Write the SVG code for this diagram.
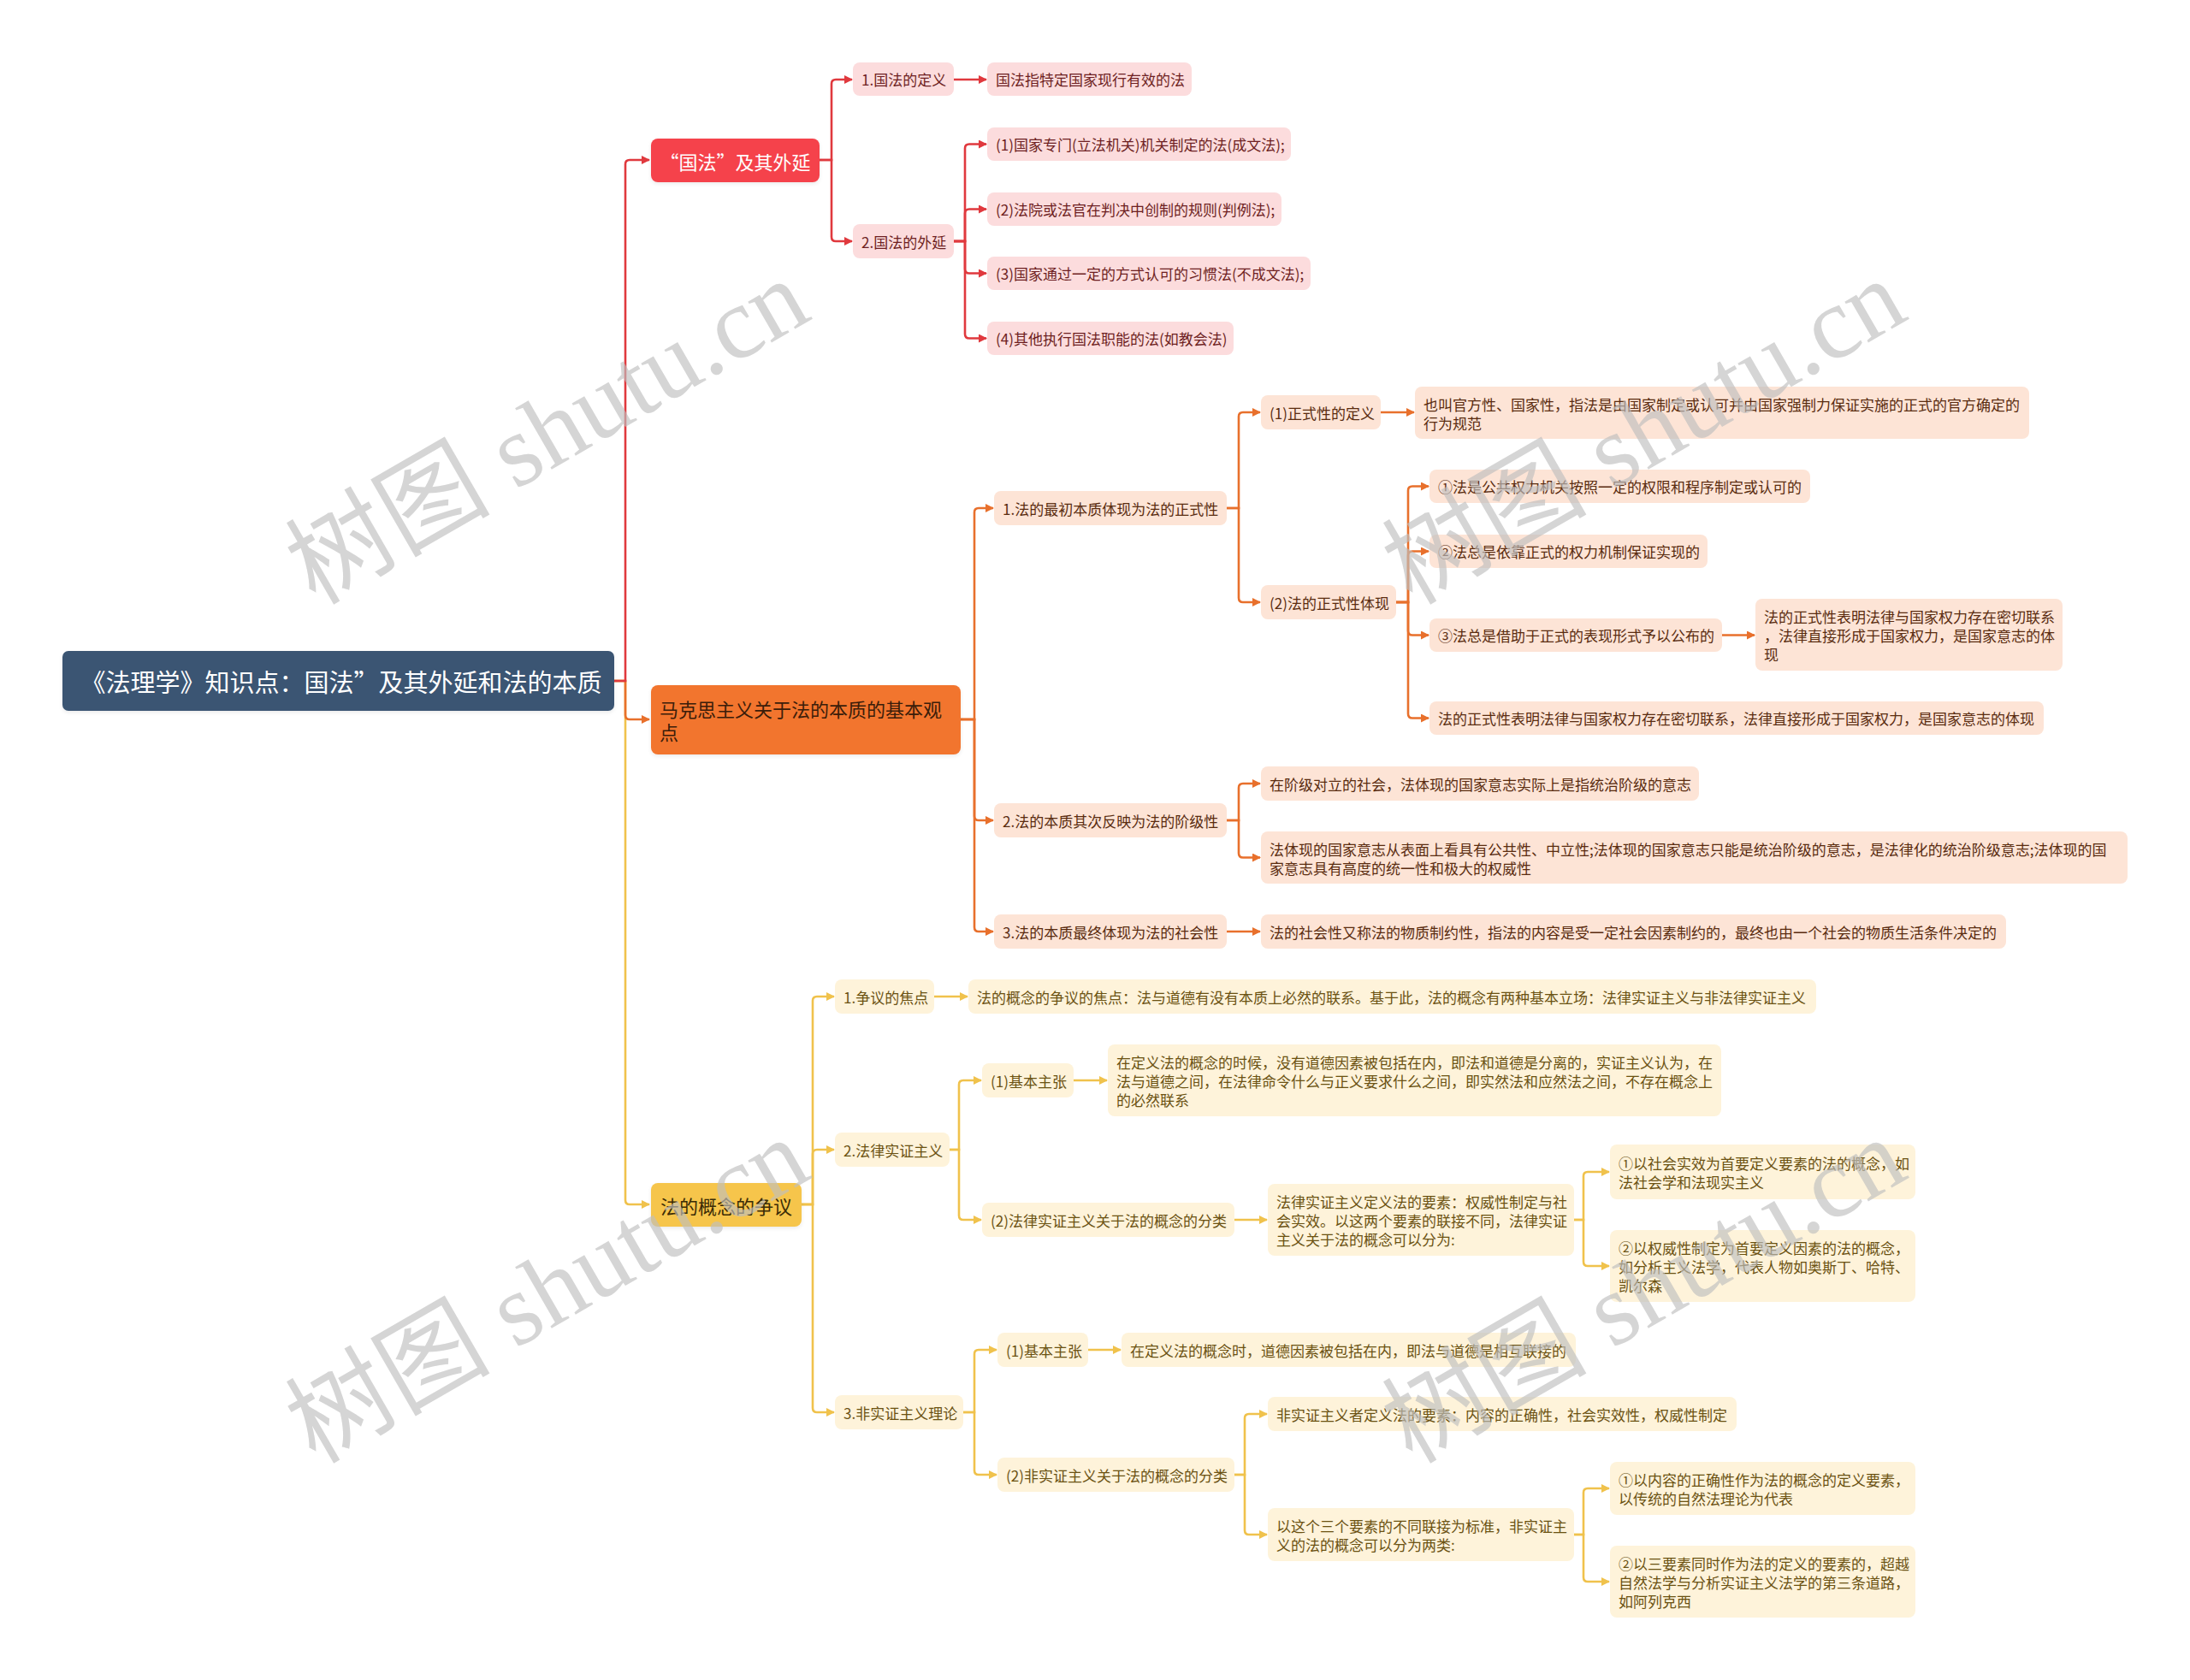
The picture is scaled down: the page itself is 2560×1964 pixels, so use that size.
<svg xmlns="http://www.w3.org/2000/svg" width="2560" height="1964" viewBox="0 0 2560 1964">
<style>
text{font-family:"Noto Sans CJK SC","Noto Sans",sans-serif;}
.t{font-size:17px;dominant-baseline:central;}
.rn{fill:#fcdcdd;}
.on{fill:#fde4d6;}
.yn{fill:#fef3da;}
.rt{fill:#6e1f22;}
.ot{fill:#5a2c10;}
.yt{fill:#6b5212;}
.cr{fill:none;stroke:#e0393e;stroke-width:2.6;marker-end:url(#ar);}
.co{fill:none;stroke:#e8702c;stroke-width:2.6;marker-end:url(#ao);}
.cy{fill:none;stroke:#f0c24c;stroke-width:2.6;marker-end:url(#ay);}
.wm{font-family:"Liberation Serif","Noto Sans CJK SC",serif;font-size:120px;fill:#bfbfbf;opacity:0.65;}
</style>
<defs>
<filter id="sh" x="-5%" y="-20%" width="110%" height="150%"><feDropShadow dx="0" dy="2" stdDeviation="2" flood-color="#000" flood-opacity="0.08"/></filter>
<marker id="ar" viewBox="0 0 10 10" refX="9" refY="5" markerWidth="10" markerHeight="10" markerUnits="userSpaceOnUse" orient="auto"><path d="M0,0 L10,5 L0,10 z" fill="#e0393e"/></marker>
<marker id="ao" viewBox="0 0 10 10" refX="9" refY="5" markerWidth="10" markerHeight="10" markerUnits="userSpaceOnUse" orient="auto"><path d="M0,0 L10,5 L0,10 z" fill="#e8702c"/></marker>
<marker id="ay" viewBox="0 0 10 10" refX="9" refY="5" markerWidth="10" markerHeight="10" markerUnits="userSpaceOnUse" orient="auto"><path d="M0,0 L10,5 L0,10 z" fill="#f0c24c"/></marker>
</defs>
<rect width="2560" height="1964" fill="#ffffff"/>

<g id="connectors">
<path class="cy" d="M718,796 H731 V1403 Q731,1408 736,1408 H759"/>
<path class="co" d="M718,796 H731 V836 Q731,841 736,841 H759"/>
<path class="cr" d="M718,796 H731 V192 Q731,187 736,187 H759"/>
<path class="cr" d="M958,187 H972 V98 Q972,93 977,93 H996"/>
<path class="cr" d="M958,187 H972 V277 Q972,282 977,282 H996"/>
<path class="cr" d="M1115,93 H1153"/>
<path class="cr" d="M1115,282 H1128 V173.5 Q1128,168.5 1133,168.5 H1153"/>
<path class="cr" d="M1115,282 H1128 V249.5 Q1128,244.5 1133,244.5 H1153"/>
<path class="cr" d="M1115,282 H1128 V314.5 Q1128,319.5 1133,319.5 H1153"/>
<path class="cr" d="M1115,282 H1128 V390.5 Q1128,395.5 1133,395.5 H1153"/>
<path class="co" d="M1123,841 H1139 V599 Q1139,594 1144,594 H1161"/>
<path class="co" d="M1123,841 H1139 V954 Q1139,959 1144,959 H1161"/>
<path class="co" d="M1123,841 H1139 V1084 Q1139,1089 1144,1089 H1161"/>
<path class="co" d="M1434,594 H1448 V487 Q1448,482 1453,482 H1473"/>
<path class="co" d="M1434,594 H1448 V699 Q1448,704 1453,704 H1473"/>
<path class="co" d="M1614,482 H1653"/>
<path class="co" d="M1632,704 H1646 V573.5 Q1646,568.5 1651,568.5 H1670"/>
<path class="co" d="M1632,704 H1646 V649.5 Q1646,644.5 1651,644.5 H1670"/>
<path class="co" d="M1632,704 H1646 V737.5 Q1646,742.5 1651,742.5 H1670"/>
<path class="co" d="M1632,704 H1646 V834.5 Q1646,839.5 1651,839.5 H1670"/>
<path class="co" d="M2013,742.5 H2051"/>
<path class="co" d="M1434,959 H1448 V921 Q1448,916 1453,916 H1473"/>
<path class="co" d="M1434,959 H1448 V997.5 Q1448,1002.5 1453,1002.5 H1473"/>
<path class="co" d="M1434,1089 H1473"/>
<path class="cy" d="M937,1408 H950 V1170 Q950,1165 955,1165 H975"/>
<path class="cy" d="M937,1408 H950 V1349 Q950,1344 955,1344 H975"/>
<path class="cy" d="M937,1408 H950 V1646 Q950,1651 955,1651 H975"/>
<path class="cy" d="M1092,1165 H1131"/>
<path class="cy" d="M1110,1344 H1121 V1268 Q1121,1263 1126,1263 H1147"/>
<path class="cy" d="M1110,1344 H1121 V1421 Q1121,1426 1126,1426 H1147"/>
<path class="cy" d="M1255,1263 H1294"/>
<path class="cy" d="M1443,1426 H1481"/>
<path class="cy" d="M1840,1426 H1851 V1375 Q1851,1370 1856,1370 H1881"/>
<path class="cy" d="M1840,1426 H1851 V1475 Q1851,1480 1856,1480 H1881"/>
<path class="cy" d="M1126,1651 H1139 V1583 Q1139,1578 1144,1578 H1165"/>
<path class="cy" d="M1126,1651 H1139 V1719 Q1139,1724 1144,1724 H1165"/>
<path class="cy" d="M1272,1578 H1310"/>
<path class="cy" d="M1443,1724 H1455 V1658 Q1455,1653 1460,1653 H1481"/>
<path class="cy" d="M1443,1724 H1455 V1789 Q1455,1794 1460,1794 H1481"/>
<path class="cy" d="M1840,1794 H1851 V1745 Q1851,1740 1856,1740 H1881"/>
<path class="cy" d="M1840,1794 H1851 V1844 Q1851,1849 1856,1849 H1881"/>
</g>

<g id="root"><rect x="73" y="761" width="645" height="70" rx="7" fill="#3a5573" filter="url(#sh)"/><text x="399" y="796" font-size="29" fill="#ffffff" text-anchor="middle" dominant-baseline="central">《法理学》知识点：国法”及其外延和法的本质</text></g>

<g id="n-guofa"><rect x="761" y="162" width="197" height="51" rx="8" fill="#f5434b" filter="url(#sh)"/><text x="859.5" y="187.5" font-size="22" fill="#ffffff" text-anchor="middle" dominant-baseline="central">“国法”及其外延</text></g>
<g id="n-r1"><rect class="rn" x="997" y="73" width="118" height="39" rx="8"/><text class="t rt" x="1007" y="92.5">1.国法的定义</text></g>
<g id="n-r1a"><rect class="rn" x="1154" y="73" width="239" height="39" rx="8"/><text class="t rt" x="1164" y="92.5">国法指特定国家现行有效的法</text></g>
<g id="n-r2"><rect class="rn" x="997" y="262" width="118" height="40" rx="8"/><text class="t rt" x="1007" y="282">2.国法的外延</text></g>
<g id="n-r2a"><rect class="rn" x="1154" y="149" width="355" height="39" rx="8"/><text class="t rt" x="1164" y="168.5">(1)国家专门(立法机关)机关制定的法(成文法);</text></g>
<g id="n-r2b"><rect class="rn" x="1154" y="225" width="344" height="39" rx="8"/><text class="t rt" x="1164" y="244.5">(2)法院或法官在判决中创制的规则(判例法);</text></g>
<g id="n-r2c"><rect class="rn" x="1154" y="300" width="378" height="39" rx="8"/><text class="t rt" x="1164" y="319.5">(3)国家通过一定的方式认可的习惯法(不成文法);</text></g>
<g id="n-r2d"><rect class="rn" x="1154" y="376" width="288" height="39" rx="8"/><text class="t rt" x="1164" y="395.5">(4)其他执行国法职能的法(如教会法)</text></g>

<g id="n-makesi"><rect x="761" y="801" width="362" height="81" rx="8" fill="#f2752f" filter="url(#sh)"/><text font-size="22" fill="#3b1d0a" dominant-baseline="central"><tspan x="771" y="828">马克思主义关于法的本质的基本观</tspan><tspan x="771" y="855">点</tspan></text></g>
<g id="n-o1"><rect class="on" x="1162" y="574" width="272" height="40" rx="8"/><text class="t ot" x="1172" y="594">1.法的最初本质体现为法的正式性</text></g>
<g id="n-o1a"><rect class="on" x="1474" y="462" width="140" height="40" rx="8"/><text class="t ot" x="1484" y="482">(1)正式性的定义</text></g>
<g id="n-o1a1"><rect class="on" x="1654" y="452" width="718" height="61" rx="8"/><text class="t ot"><tspan x="1664" y="471.5">也叫官方性、国家性，指法是由国家制定或认可并由国家强制力保证实施的正式的官方确定的</tspan><tspan x="1664" y="493.5">行为规范</tspan></text></g>
<g id="n-o1b"><rect class="on" x="1474" y="684" width="158" height="40" rx="8"/><text class="t ot" x="1484" y="704">(2)法的正式性体现</text></g>
<g id="n-o1b1"><rect class="on" x="1671" y="549" width="445" height="39" rx="8"/><text class="t ot" x="1681" y="568.5">①法是公共权力机关按照一定的权限和程序制定或认可的</text></g>
<g id="n-o1b2"><rect class="on" x="1671" y="625" width="325" height="39" rx="8"/><text class="t ot" x="1681" y="644.5">②法总是依靠正式的权力机制保证实现的</text></g>
<g id="n-o1b3"><rect class="on" x="1671" y="723" width="342" height="39" rx="8"/><text class="t ot" x="1681" y="742.5">③法总是借助于正式的表现形式予以公布的</text></g>
<g id="n-o1b3a"><rect class="on" x="2052" y="700" width="359" height="84" rx="8"/><text class="t ot"><tspan x="2062" y="720">法的正式性表明法律与国家权力存在密切联系</tspan><tspan x="2062" y="742">，法律直接形成于国家权力，是国家意志的体</tspan><tspan x="2062" y="764">现</tspan></text></g>
<g id="n-o1b4"><rect class="on" x="1671" y="820" width="718" height="39" rx="8"/><text class="t ot" x="1681" y="839.5">法的正式性表明法律与国家权力存在密切联系，法律直接形成于国家权力，是国家意志的体现</text></g>
<g id="n-o2"><rect class="on" x="1162" y="939" width="272" height="40" rx="8"/><text class="t ot" x="1172" y="959">2.法的本质其次反映为法的阶级性</text></g>
<g id="n-o2a"><rect class="on" x="1474" y="896" width="512" height="40" rx="8"/><text class="t ot" x="1484" y="916">在阶级对立的社会，法体现的国家意志实际上是指统治阶级的意志</text></g>
<g id="n-o2b"><rect class="on" x="1474" y="972" width="1013" height="61" rx="8"/><text class="t ot"><tspan x="1484" y="991.5">法体现的国家意志从表面上看具有公共性、中立性;法体现的国家意志只能是统治阶级的意志，是法律化的统治阶级意志;法体现的国</tspan><tspan x="1484" y="1013.5">家意志具有高度的统一性和极大的权威性</tspan></text></g>
<g id="n-o3"><rect class="on" x="1162" y="1069" width="272" height="40" rx="8"/><text class="t ot" x="1172" y="1089">3.法的本质最终体现为法的社会性</text></g>
<g id="n-o3a"><rect class="on" x="1474" y="1069" width="871" height="40" rx="8"/><text class="t ot" x="1484" y="1089">法的社会性又称法的物质制约性，指法的内容是受一定社会因素制约的，最终也由一个社会的物质生活条件决定的</text></g>

<g id="n-zhengyi"><rect x="761" y="1383" width="176" height="51" rx="8" fill="#f6c54c" filter="url(#sh)"/><text x="849" y="1408.5" font-size="22" fill="#3b2c06" text-anchor="middle" dominant-baseline="central">法的概念的争议</text></g>
<g id="n-y1"><rect class="yn" x="976" y="1145" width="116" height="40" rx="8"/><text class="t yt" x="986" y="1165">1.争议的焦点</text></g>
<g id="n-y1a"><rect class="yn" x="1132" y="1145" width="991" height="40" rx="8"/><text class="t yt" x="1142" y="1165">法的概念的争议的焦点：法与道德有没有本质上必然的联系。基于此，法的概念有两种基本立场：法律实证主义与非法律实证主义</text></g>
<g id="n-y2"><rect class="yn" x="976" y="1324" width="134" height="40" rx="8"/><text class="t yt" x="986" y="1344">2.法律实证主义</text></g>
<g id="n-y2a"><rect class="yn" x="1148" y="1243" width="107" height="40" rx="8"/><text class="t yt" x="1158" y="1263">(1)基本主张</text></g>
<g id="n-y2a1"><rect class="yn" x="1295" y="1221" width="717" height="84" rx="8"/><text class="t yt"><tspan x="1305" y="1241">在定义法的概念的时候，没有道德因素被包括在内，即法和道德是分离的，实证主义认为，在</tspan><tspan x="1305" y="1263">法与道德之间，在法律命令什么与正义要求什么之间，即实然法和应然法之间，不存在概念上</tspan><tspan x="1305" y="1285">的必然联系</tspan></text></g>
<g id="n-y2b"><rect class="yn" x="1148" y="1406" width="295" height="40" rx="8"/><text class="t yt" x="1158" y="1426">(2)法律实证主义关于法的概念的分类</text></g>
<g id="n-y2b1"><rect class="yn" x="1482" y="1384" width="358" height="84" rx="8"/><text class="t yt"><tspan x="1492" y="1404">法律实证主义定义法的要素：权威性制定与社</tspan><tspan x="1492" y="1426">会实效。以这两个要素的联接不同，法律实证</tspan><tspan x="1492" y="1448">主义关于法的概念可以分为:</tspan></text></g>
<g id="n-y2b1a"><rect class="yn" x="1882" y="1338" width="357" height="64" rx="8"/><text class="t yt"><tspan x="1892" y="1359">①以社会实效为首要定义要素的法的概念，如</tspan><tspan x="1892" y="1381">法社会学和法现实主义</tspan></text></g>
<g id="n-y2b1b"><rect class="yn" x="1882" y="1438" width="357" height="84" rx="8"/><text class="t yt"><tspan x="1892" y="1458">②以权威性制定为首要定义因素的法的概念，</tspan><tspan x="1892" y="1480">如分析主义法学，代表人物如奥斯丁、哈特、</tspan><tspan x="1892" y="1502">凯尔森</tspan></text></g>
<g id="n-y3"><rect class="yn" x="976" y="1631" width="150" height="40" rx="8"/><text class="t yt" x="986" y="1651">3.非实证主义理论</text></g>
<g id="n-y3a"><rect class="yn" x="1166" y="1558" width="106" height="40" rx="8"/><text class="t yt" x="1176" y="1578">(1)基本主张</text></g>
<g id="n-y3a1"><rect class="yn" x="1311" y="1558" width="531" height="40" rx="8"/><text class="t yt" x="1321" y="1578">在定义法的概念时，道德因素被包括在内，即法与道德是相互联接的</text></g>
<g id="n-y3b"><rect class="yn" x="1166" y="1704" width="277" height="40" rx="8"/><text class="t yt" x="1176" y="1724">(2)非实证主义关于法的概念的分类</text></g>
<g id="n-y3b1"><rect class="yn" x="1482" y="1633" width="548" height="40" rx="8"/><text class="t yt" x="1492" y="1653">非实证主义者定义法的要素：内容的正确性，社会实效性，权威性制定</text></g>
<g id="n-y3b2"><rect class="yn" x="1482" y="1763" width="358" height="62" rx="8"/><text class="t yt"><tspan x="1492" y="1783">以这个三个要素的不同联接为标准，非实证主</tspan><tspan x="1492" y="1805">义的法的概念可以分为两类:</tspan></text></g>
<g id="n-y3b2a"><rect class="yn" x="1882" y="1709" width="357" height="62" rx="8"/><text class="t yt"><tspan x="1892" y="1729">①以内容的正确性作为法的概念的定义要素，</tspan><tspan x="1892" y="1751">以传统的自然法理论为代表</tspan></text></g>
<g id="n-y3b2b"><rect class="yn" x="1882" y="1807" width="357" height="84" rx="8"/><text class="t yt"><tspan x="1892" y="1827">②以三要素同时作为法的定义的要素的，超越</tspan><tspan x="1892" y="1849">自然法学与分析实证主义法学的第三条道路，</tspan><tspan x="1892" y="1871">如阿列克西</tspan></text></g>

<g id="watermark">
<text class="wm" text-anchor="middle" transform="translate(660,540) rotate(-30)">树图 shutu.cn</text>
<text class="wm" text-anchor="middle" transform="translate(1942,540) rotate(-30)">树图 shutu.cn</text>
<text class="wm" text-anchor="middle" transform="translate(660,1544) rotate(-30)">树图 shutu.cn</text>
<text class="wm" text-anchor="middle" transform="translate(1942,1544) rotate(-30)">树图 shutu.cn</text>
</g>
</svg>
